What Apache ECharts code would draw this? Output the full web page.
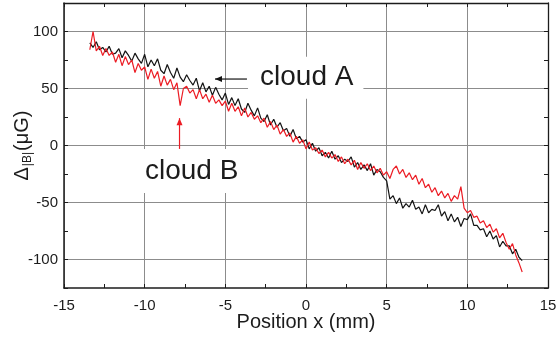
<!DOCTYPE html>
<html>
<head>
<meta charset="utf-8">
<script src="https://cdn.jsdelivr.net/npm/echarts@6/dist/echarts.min.js"></script>
<style>
  html, body { margin: 0; padding: 0; background: #fff; }
  #chart { width: 557px; height: 340px; }
</style>
</head>
<body>
<div id="chart"></div>
<script>
// Scan positions along x (mm)
const positions = [
  -13.4, -13.2, -13.0, -12.8, -12.6,
  -12.4, -12.2, -12.0, -11.8, -11.6,
  -11.4, -11.2, -11.0, -10.8, -10.6,
  -10.4, -10.2, -10.0, -9.8, -9.6,
  -9.4, -9.2, -9.0, -8.8, -8.6,
  -8.4, -8.2, -8.0, -7.8, -7.6,
  -7.4, -7.2, -7.0, -6.8, -6.6,
  -6.4, -6.2, -6.0, -5.8, -5.6,
  -5.4, -5.2, -5.0, -4.8, -4.6,
  -4.4, -4.2, -4.0, -3.8, -3.6,
  -3.4, -3.2, -3.0, -2.8, -2.6,
  -2.4, -2.2, -2.0, -1.8, -1.6,
  -1.4, -1.2, -1.0, -0.8, -0.6,
  -0.4, -0.2, 0.0, 0.2, 0.4,
  0.6, 0.8, 1.0, 1.2, 1.4,
  1.6, 1.8, 2.0, 2.2, 2.4,
  2.6, 2.8, 3.0, 3.2, 3.4,
  3.6, 3.8, 4.0, 4.2, 4.4,
  4.6, 4.8, 5.0, 5.2, 5.4,
  5.6, 5.8, 6.0, 6.2, 6.4,
  6.6, 6.8, 7.0, 7.2, 7.4,
  7.6, 7.8, 8.0, 8.2, 8.4,
  8.6, 8.8, 9.0, 9.2, 9.4,
  9.6, 9.8, 10.0, 10.2, 10.4,
  10.6, 10.8, 11.0, 11.2, 11.4,
  11.6, 11.8, 12.0, 12.2, 12.4,
  12.6, 12.8, 13.0, 13.2, 13.4
];

// Field difference Δ|B| (μG), cloud A
const cloudA = [
  90, 86, 91, 84, 86,
  82, 87, 80, 81, 85,
  77, 83, 79, 74, 81,
  76, 72, 80, 69, 75,
  70, 76, 66, 63, 71,
  64, 59, 68, 60, 56,
  62, 57, 53, 59, 48,
  55, 47, 52, 44, 51,
  45, 40, 46, 36, 42,
  35, 41, 32, 29, 37,
  31, 26, 33, 24, 21,
  27, 18, 23, 16, 20,
  13, 15, 8, 14, 6,
  8, 3, 5, -3, 2,
  -5, -2, -9, -6, -11,
  -5, -12, -9, -15, -12,
  -14, -10, -19, -15, -21,
  -17, -22, -16, -26, -21,
  -23, -28, -31, -47, -44,
  -51, -46, -55, -51, -54,
  -48, -56, -54, -60, -52,
  -59, -56, -57, -52, -62,
  -58, -66, -60, -67, -63,
  -71, -64, -65, -60, -70,
  -70, -74, -73, -80, -75,
  -82, -79, -89, -84, -88,
  -88, -95, -91, -98, -101
];

// Field difference Δ|B| (μG), cloud B
const cloudB = [
  84, 100, 83, 87, 79,
  85, 79, 82, 73, 80,
  70, 78, 71, 75, 64,
  72, 66, 69, 58, 67,
  59, 65, 52, 61, 53,
  58, 49, 55, 35, 50,
  52, 46, 49, 41, 49,
  41, 45, 38, 44, 37,
  40, 35, 39, 30, 37,
  30, 34, 26, 33, 25,
  29, 23, 26, 20, 24,
  16, 21, 14, 18, 10,
  14, 8, 11, 3, 8,
  2, 5, -3, 3, -4,
  -2, -7, -4, -10, -6,
  -11, -8, -14, -10, -16,
  -12, -17, -13, -21, -15,
  -20, -16, -22, -18, -24,
  -20, -26, -23, -29, -21,
  -18, -25, -21, -28, -24,
  -30, -26, -34, -29, -37,
  -34, -41, -37, -44, -40,
  -46, -42, -49, -44, -47,
  -36, -55, -59, -57, -63,
  -62, -68, -66, -72, -69,
  -76, -73, -81, -77, -85,
  -91, -86, -96, -103, -111
];

// Axis tick labels
const xTickLabels = [-15, -10, -5, 0, 5, 10, 15];
const yTickLabels = [-100, -50, 0, 50, 100];

const FONT = '"Liberation Sans", Arial, sans-serif';
const INK = '#1c1c1c';
const GRID = '#8c8c8c';

const chart = echarts.init(document.getElementById('chart'), null, { renderer: 'canvas' });

const pairs = (ys) => positions.map((x, i) => [x, ys[i]]);

const frameAxis = {
  axisLine: { show: true, onZero: false, lineStyle: { color: INK, width: 1.3 } },
  axisTick: { show: true, inside: true, length: 4, lineStyle: { color: INK, width: 1 } },
  axisLabel: { show: false },
  splitLine: { show: false }
};

chart.setOption({
  animation: false,
  backgroundColor: '#fff',
  grid: { left: 64, right: 9, top: 3, bottom: 52, outerBoundsMode: 'none', containLabel: false },
  xAxis: [
    {
      type: 'value', position: 'bottom', min: -15, max: 15, interval: 5,
      axisLine: { onZero: false, lineStyle: { color: INK, width: 1.5 } },
      axisTick: { inside: true, length: 4, lineStyle: { color: INK } },
      minorTick: { show: true, splitNumber: 2, length: 4, lineStyle: { color: INK } },
      axisLabel: {
        color: INK, fontFamily: FONT, fontSize: 15, margin: 10,
        formatter: (v) => (xTickLabels.includes(v) ? String(v) : '')
      },
      splitLine: { show: true, lineStyle: { color: GRID, width: 1 } },
      name: 'Position x (mm)', nameLocation: 'middle', nameGap: 24, nameMoveOverlap: false,
      nameTextStyle: { color: INK, fontFamily: FONT, fontSize: 20 }
    },
    Object.assign({
      type: 'value', position: 'top', min: -15, max: 15, interval: 5,
      minorTick: { show: true, splitNumber: 2, length: 4, lineStyle: { color: INK } }
    }, frameAxis)
  ],
  yAxis: [
    {
      type: 'value', position: 'left', min: -125, max: 125, interval: 25,
      axisLine: { onZero: false, lineStyle: { color: INK, width: 1.5 } },
      axisTick: { inside: true, length: 4, lineStyle: { color: INK } },
      axisLabel: {
        color: INK, fontFamily: FONT, fontSize: 15, margin: 6,
        formatter: (v) => (yTickLabels.includes(v) ? String(v) : '')
      },
      // grid lines only at the labelled (multiple-of-50) values
      splitLine: { show: true, lineStyle: { color: ['transparent', GRID], width: 1 } },
      name: '{m|Δ}{s||B|}{m|(μG)}', nameLocation: 'middle', nameGap: 30, nameRotate: 90,
      nameMoveOverlap: false,
      nameTextStyle: {
        color: INK, fontFamily: FONT,
        rich: {
          m: { fontFamily: FONT, fontSize: 20, color: INK, lineHeight: 22, verticalAlign: 'top' },
          s: { fontFamily: FONT, fontSize: 12, color: INK, lineHeight: 12, padding: [14, 1, 0, 1], verticalAlign: 'bottom' }
        }
      }
    },
    Object.assign({
      type: 'value', position: 'right', min: -125, max: 125, interval: 25
    }, frameAxis)
  ],
  series: [
    {
      name: 'cloud A', type: 'line', data: pairs(cloudA),
      showSymbol: false, symbol: 'none', z: 3,
      lineStyle: { color: '#141414', width: 1.2 }
    },
    {
      name: 'cloud B', type: 'line', data: pairs(cloudB),
      showSymbol: false, symbol: 'none', z: 4,
      lineStyle: { color: '#ec1c24', width: 1.2 }
    }
  ]
});

// Annotations: labels with white boxes and pointer arrows, placed in data space
function px(x, y) { return chart.convertToPixel({ gridIndex: 0 }, [x, y]); }

function arrow(from, to, color) {
  const a = px(from[0], from[1]);
  const b = px(to[0], to[1]);
  const ang = Math.atan2(b[1] - a[1], b[0] - a[0]);
  const L = 7, W = 3;
  const tip = b;
  const p1 = [tip[0] - L * Math.cos(ang) + W * Math.sin(ang), tip[1] - L * Math.sin(ang) - W * Math.cos(ang)];
  const p2 = [tip[0] - L * Math.cos(ang) - W * Math.sin(ang), tip[1] - L * Math.sin(ang) + W * Math.cos(ang)];
  return [
    { type: 'line', z: 50, silent: true, shape: { x1: a[0], y1: a[1], x2: tip[0], y2: tip[1] }, style: { stroke: color, lineWidth: 1.2 } },
    { type: 'polygon', z: 51, silent: true, shape: { points: [tip, p1, p2] }, style: { fill: color } }
  ];
}

function label(text, at, pad) {
  const p = px(at[0], at[1]);
  return {
    type: 'text', z: 60, silent: true, x: p[0] - pad[3], y: p[1],
    style: {
      text: text, font: '28px ' + FONT, fill: INK,
      verticalAlign: 'middle', align: 'left',
      backgroundColor: '#fff', padding: pad
    }
  };
}

chart.setOption({
  graphic: [].concat(
    arrow([-3.66, 58.3], [-5.64, 58.3], '#141414'),
    arrow([-7.84, -3], [-7.84, 24], '#ec1c24'),
    [label('cloud A', [-2.85, 59.5], [7, 10, 7, 12])],
    [label('cloud B', [-9.98, -22.4], [8, 10, 8, 12])]
  )
});
</script>
</body>
</html>
